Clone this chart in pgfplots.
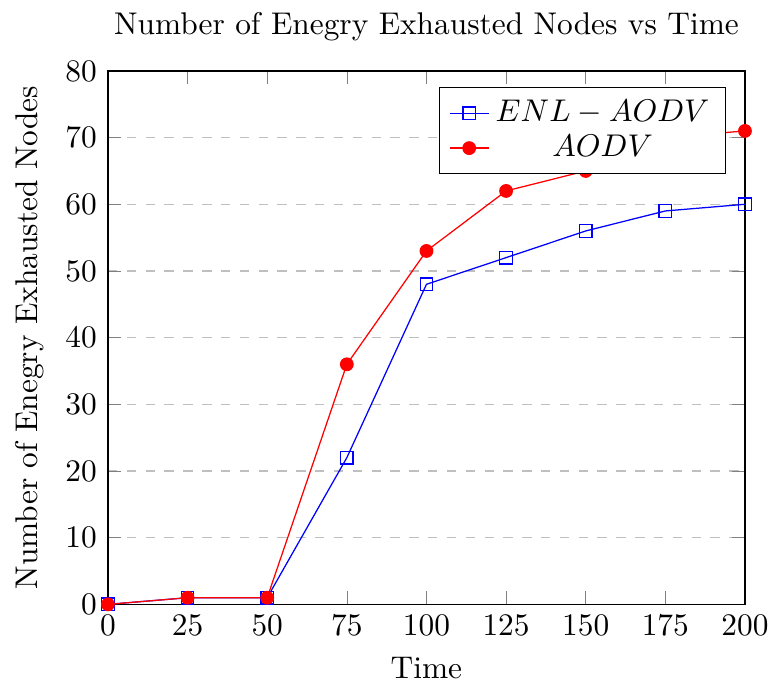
\documentclass[border=0pt]{standalone}
\usepackage{pgfplots}
\pgfplotsset{compat=1.18}
\begin{document}
\begin{tikzpicture}
\begin{axis}[
  scale only axis,
  width=203pt, height=170pt,
  title={Number of Enegry Exhausted Nodes vs Time},
  xlabel={Time},
  ylabel={Number of Enegry Exhausted Nodes},
  xmin=0, xmax=200, ymin=0, ymax=80,
  xtick={0,25,...,200},
  ytick={0,10,...,80},
  ymajorgrids=true,
  grid style={dashed, gray!50},
  legend pos=north east,
  legend style={row sep=-1.2pt},
  legend image code/.code={\draw[mark repeat=2,mark phase=2] plot coordinates {(0cm,0cm) (0.22cm,0cm) (0.44cm,0cm)};},
]
\addplot[color=blue, mark=square] coordinates {
 (0,0) (25,1) (50,1) (75,22) (100,48) (125,52) (150,56) (175,59) (200,60)
};
\addlegendentry{$ENL-AODV$}
\addplot[color=red, mark=*] coordinates {
 (0,0) (25,1) (50,1) (75,36) (100,53) (125,62) (150,65) (175,70) (200,71)
};
\addlegendentry{$AODV$}
\end{axis}
\pgfresetboundingbox
\path[use as bounding box] ([xshift=-34.4pt,yshift=-26.5pt]current axis.south west) rectangle ([xshift=8.3pt,yshift=22.6pt]current axis.north east);
\end{tikzpicture}
\end{document}
